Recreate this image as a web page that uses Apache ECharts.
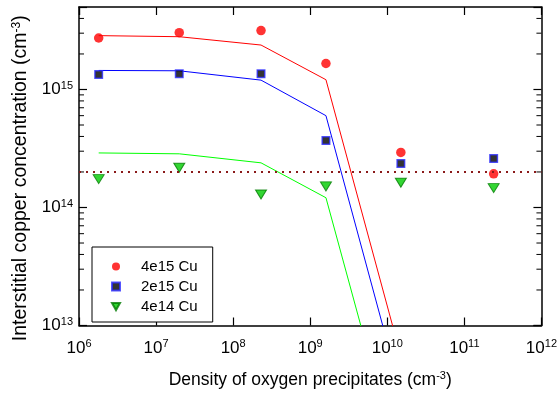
<!DOCTYPE html>
<html>
<head>
<meta charset="utf-8">
<script src="https://cdn.jsdelivr.net/npm/echarts@6/dist/echarts.min.js"></script>
<style>
  html, body { margin: 0; padding: 0; background: #fff; }
  #chart { width: 560px; height: 394px; }
</style>
</head>
<body>
<div id="chart"></div>
<script>
// Precipitate densities (cm^-3) of the measured samples
const precipitateDensity = [1.8e6, 2.0e7, 2.3e8, 1.6e9, 1.5e10, 2.4e11];

// Measured interstitial Cu (cm^-3) for each initial contamination level
const cu4e15 = [2.73e15, 3.03e15, 3.16e15, 1.66e15, 2.93e14, 1.93e14];
const cu2e15 = [1.34e15, 1.36e15, 1.36e15, 3.69e14, 2.36e14, 2.60e14];
const cu4e14 = [1.74e14, 2.17e14, 1.29e14, 1.51e14, 1.62e14, 1.46e14];

// Model curves, evaluated at the first five densities
const model4e15 = [2.86e15, 2.80e15, 2.38e15, 1.21e15, 5.5e12];
const model2e15 = [1.45e15, 1.44e15, 1.20e15, 6.0e14, 2.7e12];
const model4e14 = [2.90e14, 2.85e14, 2.39e14, 1.21e14, 5.7e11];

// Horizontal reference level (cm^-3)
const referenceLevel = 2e14;

// Legend labels
const seriesNames = ['4e15 Cu', '2e15 Cu', '4e14 Cu'];

// Intermediate log-decade positions on the concentration axis
const yMinorTicks = [2e13, 3e13, 4e13, 5e13, 6e13, 7e13, 8e13, 9e13,
                     2e14, 3e14, 4e14, 5e14, 6e14, 7e14, 8e14, 9e14,
                     2e15, 3e15, 4e15];

const X_MIN = 1e6, X_MAX = 1e12, Y_MIN = 1e13, Y_MAX = 5e15;

const pair = (xs, ys) => ys.map((y, i) => [xs[i], y]);

const axisFont = 'Liberation Sans, Arial, sans-serif';

const powLabel = v => {
  const e = Math.round(Math.log10(v));
  return '{b|10}{s|' + e + '}';
};
const powRich = {
  b: { fontSize: 17, fontFamily: axisFont, color: '#000' },
  s: { fontSize: 11, fontFamily: axisFont, color: '#000', verticalAlign: 'bottom', padding: [0, 0, 8, 0] }
};

const frameLine = { show: true, onZero: false, lineStyle: { color: '#000', width: 1.5 } };
const innerTick = { show: true, inside: true, length: 8, lineStyle: { color: '#000', width: 1.2 } };

const triangleDown = 'path://M0,0 L10,0 L5,9 Z';

const chart = echarts.init(document.getElementById('chart'), null, { renderer: 'canvas' });

chart.setOption({
  animation: false,
  backgroundColor: '#fff',
  grid: { left: 79, top: 7, width: 466, height: 326 },
  legend: {
    data: seriesNames,
    orient: 'vertical',
    left: 92,
    top: 247,
    padding: [12, 15, 8, 19],
    itemGap: 5,
    itemWidth: 8,
    itemHeight: 8,
    borderColor: '#000',
    borderWidth: 1,
    backgroundColor: '#fff',
    borderRadius: 0,
    textStyle: {
      fontSize: 15, fontFamily: axisFont, color: '#000',
      rich: { t: { fontSize: 15, fontFamily: axisFont, color: '#000', padding: [0, 0, 0, 16] } }
    },
    formatter: name => '{t|' + name + '}'
  },
  xAxis: [{
    type: 'log', logBase: 10, min: X_MIN, max: X_MAX,
    position: 'bottom',
    name: 'Density of oxygen precipitates (cm{sup|-3})',
    nameLocation: 'middle', nameGap: 45,
    nameTextStyle: {
      fontSize: 17.5, fontFamily: axisFont, color: '#000',
      rich: { sup: { fontSize: 11, fontFamily: axisFont, color: '#000', verticalAlign: 'bottom', padding: [0, 0, 8, 0] } }
    },
    axisLine: frameLine,
    axisTick: innerTick,
    axisLabel: { formatter: powLabel, rich: powRich, margin: 13 },
    splitLine: { show: false },
    minorTick: { show: false }
  }, {
    type: 'log', logBase: 10, min: X_MIN, max: X_MAX,
    position: 'top',
    axisLine: frameLine,
    axisTick: innerTick,
    axisLabel: { show: false },
    splitLine: { show: false }
  }],
  yAxis: [{
    type: 'log', logBase: 10, min: Y_MIN, max: Y_MAX,
    position: 'left',
    name: 'Interstitial copper concentration (cm{sup|-3})',
    nameLocation: 'middle', nameGap: 43,
    nameTextStyle: {
      fontSize: 19.5, fontFamily: axisFont, color: '#000', padding: [0, 24, 0, 0],
      rich: { sup: { fontSize: 12, fontFamily: axisFont, color: '#000', verticalAlign: 'bottom', padding: [0, 0, 9, 0] } }
    },
    axisLine: frameLine,
    axisTick: innerTick,
    axisLabel: {
      formatter: v => (Math.abs(Math.log10(v) - Math.round(Math.log10(v))) < 1e-6 ? powLabel(v) : ''),
      rich: powRich, margin: 6
    },
    splitLine: { show: false }
  }, {
    type: 'log', logBase: 10, min: Y_MIN, max: Y_MAX,
    position: 'right',
    axisLine: frameLine,
    axisTick: innerTick,
    axisLabel: { show: false },
    splitLine: { show: false }
  }],
  series: [
    // Minor ticks on both concentration axes
    {
      type: 'custom',
      silent: true,
      xAxisIndex: 0, yAxisIndex: 0,
      data: yMinorTicks.map(v => [X_MIN, v]),
      clip: false,
      renderItem: (params, api) => {
        const p = api.coord([X_MIN, api.value(1)]);
        const cs = params.coordSys;
        const style = { stroke: '#000', lineWidth: 1 };
        return {
          type: 'group',
          children: [
            { type: 'line', shape: { x1: cs.x, y1: p[1], x2: cs.x + 5, y2: p[1] }, style },
            { type: 'line', shape: { x1: cs.x + cs.width - 5, y1: p[1], x2: cs.x + cs.width, y2: p[1] }, style }
          ]
        };
      },
      z: 1
    },
    // Model curves
    {
      name: 'model 4e15', type: 'line', data: pair(precipitateDensity, model4e15),
      showSymbol: false, symbol: 'none', clip: true,
      lineStyle: { color: '#ff0000', width: 1 }, z: 2
    },
    {
      name: 'model 2e15', type: 'line', data: pair(precipitateDensity, model2e15),
      showSymbol: false, symbol: 'none', clip: true,
      lineStyle: { color: '#0000ff', width: 1 }, z: 2
    },
    {
      name: 'model 4e14', type: 'line', data: pair(precipitateDensity, model4e14),
      showSymbol: false, symbol: 'none', clip: true,
      lineStyle: { color: '#00ff00', width: 1 }, z: 2,
      markLine: {
        silent: true, symbol: 'none', label: { show: false },
        lineStyle: { color: '#8b1a1a', type: [2, 5], width: 2 },
        data: [{ yAxis: referenceLevel }]
      }
    },
    // Measurements
    {
      name: seriesNames[0], type: 'scatter', data: pair(precipitateDensity, cu4e15),
      symbol: 'circle', symbolSize: 9.5,
      itemStyle: { color: '#ff0000' }, z: 3
    },
    {
      name: seriesNames[1], type: 'scatter', data: pair(precipitateDensity, cu2e15),
      symbol: 'rect', symbolSize: 7.5,
      itemStyle: { color: '#000', borderColor: '#2a2aff', borderWidth: 1.5 }, z: 3
    },
    {
      name: seriesNames[2], type: 'scatter', data: pair(precipitateDensity, cu4e14),
      symbol: triangleDown, symbolSize: [11, 9],
      itemStyle: { color: '#00cc00', borderColor: '#007a00', borderWidth: 1 }, z: 3
    }
  ]
});
</script>
</body>
</html>
